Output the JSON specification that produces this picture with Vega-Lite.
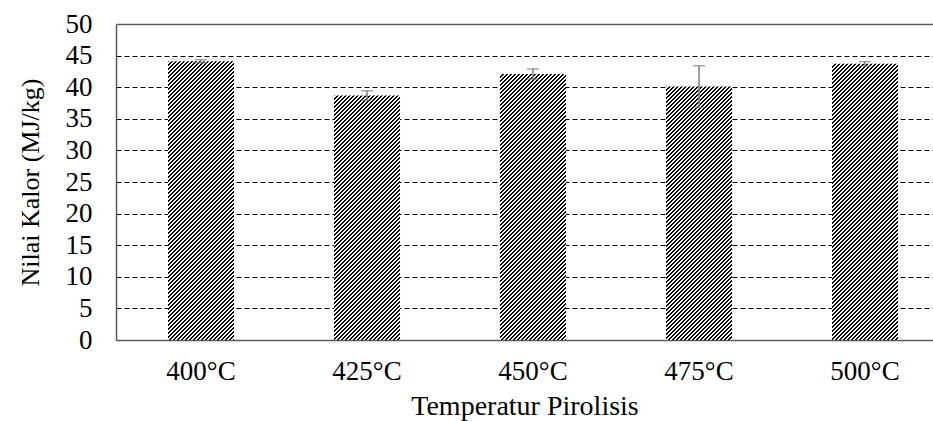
{
"$schema":"https://vega.github.io/schema/vega-lite/v6.json",
"width":817,"height":316,
"autosize":{"type":"none"},
"padding":{"left":116,"top":24,"right":0,"bottom":81},
"background":"#ffffff",
"params":[{"name":"hatch","value":[
{"offset":0,"color":"#000"},{"offset":0.005,"color":"#000"},{"offset":0.005,"color":"#fff"},{"offset":0.01,"color":"#fff"},
{"offset":0.01,"color":"#000"},{"offset":0.015,"color":"#000"},{"offset":0.015,"color":"#fff"},{"offset":0.02,"color":"#fff"},
{"offset":0.02,"color":"#000"},{"offset":0.025,"color":"#000"},{"offset":0.025,"color":"#fff"},{"offset":0.03,"color":"#fff"},
{"offset":0.03,"color":"#000"},{"offset":0.035,"color":"#000"},{"offset":0.035,"color":"#fff"},{"offset":0.04,"color":"#fff"},
{"offset":0.04,"color":"#000"},{"offset":0.045,"color":"#000"},{"offset":0.045,"color":"#fff"},{"offset":0.05,"color":"#fff"},
{"offset":0.05,"color":"#000"},{"offset":0.055,"color":"#000"},{"offset":0.055,"color":"#fff"},{"offset":0.06,"color":"#fff"},
{"offset":0.06,"color":"#000"},{"offset":0.065,"color":"#000"},{"offset":0.065,"color":"#fff"},{"offset":0.07,"color":"#fff"},
{"offset":0.07,"color":"#000"},{"offset":0.075,"color":"#000"},{"offset":0.075,"color":"#fff"},{"offset":0.08,"color":"#fff"},
{"offset":0.08,"color":"#000"},{"offset":0.085,"color":"#000"},{"offset":0.085,"color":"#fff"},{"offset":0.09,"color":"#fff"},
{"offset":0.09,"color":"#000"},{"offset":0.095,"color":"#000"},{"offset":0.095,"color":"#fff"},{"offset":0.1,"color":"#fff"},
{"offset":0.1,"color":"#000"},{"offset":0.105,"color":"#000"},{"offset":0.105,"color":"#fff"},{"offset":0.11,"color":"#fff"},
{"offset":0.11,"color":"#000"},{"offset":0.115,"color":"#000"},{"offset":0.115,"color":"#fff"},{"offset":0.12,"color":"#fff"},
{"offset":0.12,"color":"#000"},{"offset":0.125,"color":"#000"},{"offset":0.125,"color":"#fff"},{"offset":0.13,"color":"#fff"},
{"offset":0.13,"color":"#000"},{"offset":0.135,"color":"#000"},{"offset":0.135,"color":"#fff"},{"offset":0.14,"color":"#fff"},
{"offset":0.14,"color":"#000"},{"offset":0.145,"color":"#000"},{"offset":0.145,"color":"#fff"},{"offset":0.15,"color":"#fff"},
{"offset":0.15,"color":"#000"},{"offset":0.155,"color":"#000"},{"offset":0.155,"color":"#fff"},{"offset":0.16,"color":"#fff"},
{"offset":0.16,"color":"#000"},{"offset":0.165,"color":"#000"},{"offset":0.165,"color":"#fff"},{"offset":0.17,"color":"#fff"},
{"offset":0.17,"color":"#000"},{"offset":0.175,"color":"#000"},{"offset":0.175,"color":"#fff"},{"offset":0.18,"color":"#fff"},
{"offset":0.18,"color":"#000"},{"offset":0.185,"color":"#000"},{"offset":0.185,"color":"#fff"},{"offset":0.19,"color":"#fff"},
{"offset":0.19,"color":"#000"},{"offset":0.195,"color":"#000"},{"offset":0.195,"color":"#fff"},{"offset":0.2,"color":"#fff"},
{"offset":0.2,"color":"#000"},{"offset":0.205,"color":"#000"},{"offset":0.205,"color":"#fff"},{"offset":0.21,"color":"#fff"},
{"offset":0.21,"color":"#000"},{"offset":0.215,"color":"#000"},{"offset":0.215,"color":"#fff"},{"offset":0.22,"color":"#fff"},
{"offset":0.22,"color":"#000"},{"offset":0.225,"color":"#000"},{"offset":0.225,"color":"#fff"},{"offset":0.23,"color":"#fff"},
{"offset":0.23,"color":"#000"},{"offset":0.235,"color":"#000"},{"offset":0.235,"color":"#fff"},{"offset":0.24,"color":"#fff"},
{"offset":0.24,"color":"#000"},{"offset":0.245,"color":"#000"},{"offset":0.245,"color":"#fff"},{"offset":0.25,"color":"#fff"},
{"offset":0.25,"color":"#000"},{"offset":0.255,"color":"#000"},{"offset":0.255,"color":"#fff"},{"offset":0.26,"color":"#fff"},
{"offset":0.26,"color":"#000"},{"offset":0.265,"color":"#000"},{"offset":0.265,"color":"#fff"},{"offset":0.27,"color":"#fff"},
{"offset":0.27,"color":"#000"},{"offset":0.275,"color":"#000"},{"offset":0.275,"color":"#fff"},{"offset":0.28,"color":"#fff"},
{"offset":0.28,"color":"#000"},{"offset":0.285,"color":"#000"},{"offset":0.285,"color":"#fff"},{"offset":0.29,"color":"#fff"},
{"offset":0.29,"color":"#000"},{"offset":0.295,"color":"#000"},{"offset":0.295,"color":"#fff"},{"offset":0.3,"color":"#fff"},
{"offset":0.3,"color":"#000"},{"offset":0.305,"color":"#000"},{"offset":0.305,"color":"#fff"},{"offset":0.31,"color":"#fff"},
{"offset":0.31,"color":"#000"},{"offset":0.315,"color":"#000"},{"offset":0.315,"color":"#fff"},{"offset":0.32,"color":"#fff"},
{"offset":0.32,"color":"#000"},{"offset":0.325,"color":"#000"},{"offset":0.325,"color":"#fff"},{"offset":0.33,"color":"#fff"},
{"offset":0.33,"color":"#000"},{"offset":0.335,"color":"#000"},{"offset":0.335,"color":"#fff"},{"offset":0.34,"color":"#fff"},
{"offset":0.34,"color":"#000"},{"offset":0.345,"color":"#000"},{"offset":0.345,"color":"#fff"},{"offset":0.35,"color":"#fff"},
{"offset":0.35,"color":"#000"},{"offset":0.355,"color":"#000"},{"offset":0.355,"color":"#fff"},{"offset":0.36,"color":"#fff"},
{"offset":0.36,"color":"#000"},{"offset":0.365,"color":"#000"},{"offset":0.365,"color":"#fff"},{"offset":0.37,"color":"#fff"},
{"offset":0.37,"color":"#000"},{"offset":0.375,"color":"#000"},{"offset":0.375,"color":"#fff"},{"offset":0.38,"color":"#fff"},
{"offset":0.38,"color":"#000"},{"offset":0.385,"color":"#000"},{"offset":0.385,"color":"#fff"},{"offset":0.39,"color":"#fff"},
{"offset":0.39,"color":"#000"},{"offset":0.395,"color":"#000"},{"offset":0.395,"color":"#fff"},{"offset":0.4,"color":"#fff"},
{"offset":0.4,"color":"#000"},{"offset":0.405,"color":"#000"},{"offset":0.405,"color":"#fff"},{"offset":0.41,"color":"#fff"},
{"offset":0.41,"color":"#000"},{"offset":0.415,"color":"#000"},{"offset":0.415,"color":"#fff"},{"offset":0.42,"color":"#fff"},
{"offset":0.42,"color":"#000"},{"offset":0.425,"color":"#000"},{"offset":0.425,"color":"#fff"},{"offset":0.43,"color":"#fff"},
{"offset":0.43,"color":"#000"},{"offset":0.435,"color":"#000"},{"offset":0.435,"color":"#fff"},{"offset":0.44,"color":"#fff"},
{"offset":0.44,"color":"#000"},{"offset":0.445,"color":"#000"},{"offset":0.445,"color":"#fff"},{"offset":0.45,"color":"#fff"},
{"offset":0.45,"color":"#000"},{"offset":0.455,"color":"#000"},{"offset":0.455,"color":"#fff"},{"offset":0.46,"color":"#fff"},
{"offset":0.46,"color":"#000"},{"offset":0.465,"color":"#000"},{"offset":0.465,"color":"#fff"},{"offset":0.47,"color":"#fff"},
{"offset":0.47,"color":"#000"},{"offset":0.475,"color":"#000"},{"offset":0.475,"color":"#fff"},{"offset":0.48,"color":"#fff"},
{"offset":0.48,"color":"#000"},{"offset":0.485,"color":"#000"},{"offset":0.485,"color":"#fff"},{"offset":0.49,"color":"#fff"},
{"offset":0.49,"color":"#000"},{"offset":0.495,"color":"#000"},{"offset":0.495,"color":"#fff"},{"offset":0.5,"color":"#fff"},
{"offset":0.5,"color":"#000"},{"offset":0.505,"color":"#000"},{"offset":0.505,"color":"#fff"},{"offset":0.51,"color":"#fff"},
{"offset":0.51,"color":"#000"},{"offset":0.515,"color":"#000"},{"offset":0.515,"color":"#fff"},{"offset":0.52,"color":"#fff"},
{"offset":0.52,"color":"#000"},{"offset":0.525,"color":"#000"},{"offset":0.525,"color":"#fff"},{"offset":0.53,"color":"#fff"},
{"offset":0.53,"color":"#000"},{"offset":0.535,"color":"#000"},{"offset":0.535,"color":"#fff"},{"offset":0.54,"color":"#fff"},
{"offset":0.54,"color":"#000"},{"offset":0.545,"color":"#000"},{"offset":0.545,"color":"#fff"},{"offset":0.55,"color":"#fff"},
{"offset":0.55,"color":"#000"},{"offset":0.555,"color":"#000"},{"offset":0.555,"color":"#fff"},{"offset":0.56,"color":"#fff"},
{"offset":0.56,"color":"#000"},{"offset":0.565,"color":"#000"},{"offset":0.565,"color":"#fff"},{"offset":0.57,"color":"#fff"},
{"offset":0.57,"color":"#000"},{"offset":0.575,"color":"#000"},{"offset":0.575,"color":"#fff"},{"offset":0.58,"color":"#fff"},
{"offset":0.58,"color":"#000"},{"offset":0.585,"color":"#000"},{"offset":0.585,"color":"#fff"},{"offset":0.59,"color":"#fff"},
{"offset":0.59,"color":"#000"},{"offset":0.595,"color":"#000"},{"offset":0.595,"color":"#fff"},{"offset":0.6,"color":"#fff"},
{"offset":0.6,"color":"#000"},{"offset":0.605,"color":"#000"},{"offset":0.605,"color":"#fff"},{"offset":0.61,"color":"#fff"},
{"offset":0.61,"color":"#000"},{"offset":0.615,"color":"#000"},{"offset":0.615,"color":"#fff"},{"offset":0.62,"color":"#fff"},
{"offset":0.62,"color":"#000"},{"offset":0.625,"color":"#000"},{"offset":0.625,"color":"#fff"},{"offset":0.63,"color":"#fff"},
{"offset":0.63,"color":"#000"},{"offset":0.635,"color":"#000"},{"offset":0.635,"color":"#fff"},{"offset":0.64,"color":"#fff"},
{"offset":0.64,"color":"#000"},{"offset":0.645,"color":"#000"},{"offset":0.645,"color":"#fff"},{"offset":0.65,"color":"#fff"},
{"offset":0.65,"color":"#000"},{"offset":0.655,"color":"#000"},{"offset":0.655,"color":"#fff"},{"offset":0.66,"color":"#fff"},
{"offset":0.66,"color":"#000"},{"offset":0.665,"color":"#000"},{"offset":0.665,"color":"#fff"},{"offset":0.67,"color":"#fff"},
{"offset":0.67,"color":"#000"},{"offset":0.675,"color":"#000"},{"offset":0.675,"color":"#fff"},{"offset":0.68,"color":"#fff"},
{"offset":0.68,"color":"#000"},{"offset":0.685,"color":"#000"},{"offset":0.685,"color":"#fff"},{"offset":0.69,"color":"#fff"},
{"offset":0.69,"color":"#000"},{"offset":0.695,"color":"#000"},{"offset":0.695,"color":"#fff"},{"offset":0.7,"color":"#fff"},
{"offset":0.7,"color":"#000"},{"offset":0.705,"color":"#000"},{"offset":0.705,"color":"#fff"},{"offset":0.71,"color":"#fff"},
{"offset":0.71,"color":"#000"},{"offset":0.715,"color":"#000"},{"offset":0.715,"color":"#fff"},{"offset":0.72,"color":"#fff"},
{"offset":0.72,"color":"#000"},{"offset":0.725,"color":"#000"},{"offset":0.725,"color":"#fff"},{"offset":0.73,"color":"#fff"},
{"offset":0.73,"color":"#000"},{"offset":0.735,"color":"#000"},{"offset":0.735,"color":"#fff"},{"offset":0.74,"color":"#fff"},
{"offset":0.74,"color":"#000"},{"offset":0.745,"color":"#000"},{"offset":0.745,"color":"#fff"},{"offset":0.75,"color":"#fff"},
{"offset":0.75,"color":"#000"},{"offset":0.755,"color":"#000"},{"offset":0.755,"color":"#fff"},{"offset":0.76,"color":"#fff"},
{"offset":0.76,"color":"#000"},{"offset":0.765,"color":"#000"},{"offset":0.765,"color":"#fff"},{"offset":0.77,"color":"#fff"},
{"offset":0.77,"color":"#000"},{"offset":0.775,"color":"#000"},{"offset":0.775,"color":"#fff"},{"offset":0.78,"color":"#fff"},
{"offset":0.78,"color":"#000"},{"offset":0.785,"color":"#000"},{"offset":0.785,"color":"#fff"},{"offset":0.79,"color":"#fff"},
{"offset":0.79,"color":"#000"},{"offset":0.795,"color":"#000"},{"offset":0.795,"color":"#fff"},{"offset":0.8,"color":"#fff"},
{"offset":0.8,"color":"#000"},{"offset":0.805,"color":"#000"},{"offset":0.805,"color":"#fff"},{"offset":0.81,"color":"#fff"},
{"offset":0.81,"color":"#000"},{"offset":0.815,"color":"#000"},{"offset":0.815,"color":"#fff"},{"offset":0.82,"color":"#fff"},
{"offset":0.82,"color":"#000"},{"offset":0.825,"color":"#000"},{"offset":0.825,"color":"#fff"},{"offset":0.83,"color":"#fff"},
{"offset":0.83,"color":"#000"},{"offset":0.835,"color":"#000"},{"offset":0.835,"color":"#fff"},{"offset":0.84,"color":"#fff"},
{"offset":0.84,"color":"#000"},{"offset":0.845,"color":"#000"},{"offset":0.845,"color":"#fff"},{"offset":0.85,"color":"#fff"},
{"offset":0.85,"color":"#000"},{"offset":0.855,"color":"#000"},{"offset":0.855,"color":"#fff"},{"offset":0.86,"color":"#fff"},
{"offset":0.86,"color":"#000"},{"offset":0.865,"color":"#000"},{"offset":0.865,"color":"#fff"},{"offset":0.87,"color":"#fff"},
{"offset":0.87,"color":"#000"},{"offset":0.875,"color":"#000"},{"offset":0.875,"color":"#fff"},{"offset":0.88,"color":"#fff"}
]}],
"config":{"view":{"stroke":null},
"axis":{"labelFont":"Liberation Serif","titleFont":"Liberation Serif","labelColor":"#000","titleColor":"#000","titleFontWeight":"normal","ticks":false,"domainColor":"#595959","domainWidth":1.5}},
"data":{"values":[
{"T":"400°C","v":44.1,"lo":43.85,"hi":44.35},
{"T":"425°C","v":38.7,"lo":37.95,"hi":39.45},
{"T":"450°C","v":42.1,"lo":41.3,"hi":42.9},
{"T":"475°C","v":40.1,"lo":36.8,"hi":43.4},
{"T":"500°C","v":43.7,"lo":43.35,"hi":44.05}]},
"encoding":{"x":{"field":"T","type":"nominal","sort":null,"scale":{"paddingInner":0.6024,"paddingOuter":0.262,"align":0.598},
"axis":{"title":"Temperatur Pirolisis","labelAngle":0,"labelFontSize":27,"titleFontSize":28,"labelPadding":18,"titlePadding":8}}},
"layer":[
{"mark":{"type":"bar","fill":{"expr":"{gradient:'linear',x1:0,y1:(floor(scale('x',datum.T)+scale('y',datum.v))-0.5-scale('x',datum.T)-scale('y',datum.v))/(scale('y',0)-scale('y',datum.v)),x2:400*bandwidth('x')/(pow(scale('y',0)-scale('y',datum.v),2)+pow(bandwidth('x'),2)),y2:(floor(scale('x',datum.T)+scale('y',datum.v))-0.5-scale('x',datum.T)-scale('y',datum.v))/(scale('y',0)-scale('y',datum.v))+400*(scale('y',0)-scale('y',datum.v))/(pow(scale('y',0)-scale('y',datum.v),2)+pow(bandwidth('x'),2)),stops:hatch}"}},
"encoding":{"y":{"field":"v","type":"quantitative","title":"Nilai Kalor (MJ/kg)","scale":{"domain":[0,50],"nice":false},
"axis":{"values":[0,5,10,15,20,25,30,35,40,45,50],"labelFontSize":27,"titleFontSize":26,"labelPadding":24,"titlePadding":22,"labelFlush":false,"labelOverlap":false,"grid":true,"gridDash":{"condition":{"test":"datum.value === 50","value":[]},"value":[5,3]},"gridColor":{"condition":{"test":"datum.value === 50","value":"#595959"},"value":"#000"},"gridWidth":{"condition":{"test":"datum.value === 50","value":1.5},"value":1}}}}},
{"mark":{"type":"rule","color":"#7f7f7f","strokeWidth":1.5},
"encoding":{"y":{"field":"lo","type":"quantitative","title":"Nilai Kalor (MJ/kg)","axis":{"values":[0,5,10,15,20,25,30,35,40,45,50]}},"y2":{"field":"hi"}}},
{"mark":{"type":"tick","color":"#7f7f7f","size":12,"thickness":1.5},
"encoding":{"y":{"field":"hi","type":"quantitative","title":"Nilai Kalor (MJ/kg)","axis":{"values":[0,5,10,15,20,25,30,35,40,45,50]}}}},
{"mark":{"type":"tick","color":"#7f7f7f","size":12,"thickness":1.5},
"encoding":{"y":{"field":"lo","type":"quantitative","title":"Nilai Kalor (MJ/kg)","axis":{"values":[0,5,10,15,20,25,30,35,40,45,50]}}}}
]
}
